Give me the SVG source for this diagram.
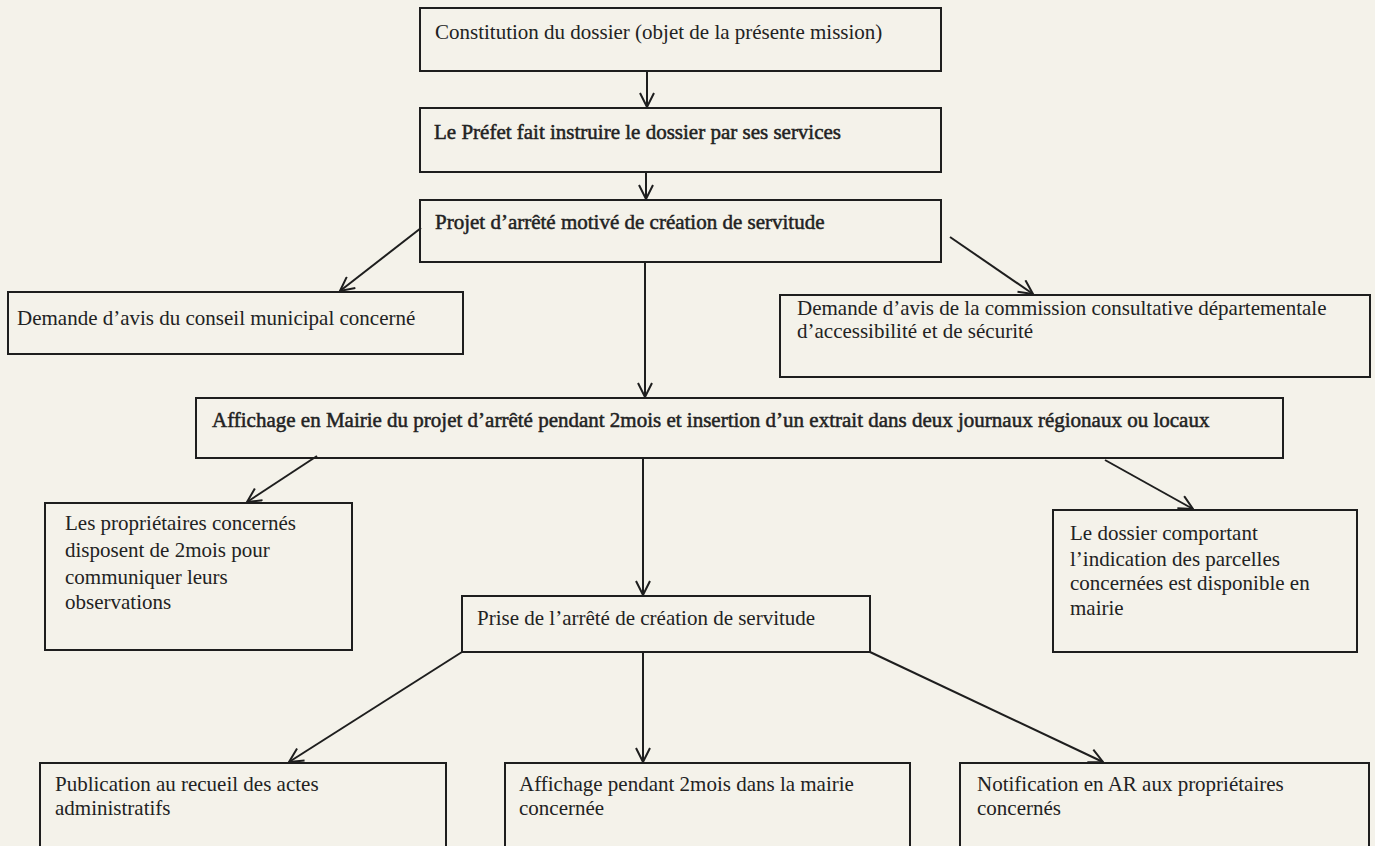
<svg xmlns="http://www.w3.org/2000/svg" width="1375" height="846" viewBox="0 0 1375 846">
<defs>
<style>
.box{fill:none;stroke:#1e1e1e;stroke-width:2}
.t{font-family:"Liberation Serif","Times New Roman",serif;font-size:21px;fill:#222}
.b{stroke:#222;stroke-width:0.5}
.c{fill:none;stroke:#1e1e1e;stroke-width:2}
</style>
<marker id="ah" viewBox="0 0 16 16" refX="15" refY="8" markerWidth="16" markerHeight="16" markerUnits="userSpaceOnUse" orient="auto">
<path d="M1,1 L15,8 L1,15" fill="none" stroke="#1e1e1e" stroke-width="2"/>
</marker>
</defs>
<rect x="0" y="0" width="1375" height="846" fill="#f4f2ea"/>

<g id="n1"><rect class="box" x="420" y="8" width="521" height="63"/><text class="t" x="435" y="39">Constitution  du dossier (objet de la présente mission)</text></g>
<g id="n2"><rect class="box" x="420" y="108" width="521" height="64"/><text class="t b" x="434" y="139">Le Préfet fait instruire  le dossier par ses services</text></g>
<g id="n3"><rect class="box" x="420" y="200" width="521" height="62"/><text class="t b" x="435" y="229">Projet d’arrêté motivé  de création de servitude</text></g>
<g id="n4"><rect class="box" x="8" y="292" width="455" height="62"/><text class="t" x="17" y="325">Demande d’avis du conseil  municipal  concerné</text></g>
<g id="n5"><rect class="box" x="780" y="295" width="590" height="82"/><text class="t" x="797" y="315">Demande d’avis de la commission  consultative  départementale</text><text class="t" x="797" y="338">d’accessibilité  et de sécurité</text></g>
<g id="n6"><rect class="box" x="196" y="398" width="1087" height="60"/><text class="t b" x="212" y="427">Affichage en Mairie du projet d’arrêté pendant 2mois  et insertion  d’un  extrait dans deux journaux  régionaux  ou locaux</text></g>
<g id="n7"><rect class="box" x="45" y="503" width="307" height="147"/><text class="t" x="65" y="530">Les propriétaires  concernés</text><text class="t" x="65" y="557">disposent de 2mois  pour</text><text class="t" x="65" y="584">communiquer  leurs</text><text class="t" x="65" y="609">observations</text></g>
<g id="n8"><rect class="box" x="1053" y="510" width="304" height="142"/><text class="t" x="1070" y="540">Le dossier  comportant</text><text class="t" x="1070" y="566">l’indication  des parcelles</text><text class="t" x="1070" y="590">concernées est disponible  en</text><text class="t" x="1070" y="615">mairie</text></g>
<g id="n9"><rect class="box" x="462" y="596" width="408" height="56"/><text class="t" x="477" y="625">Prise de l’arrêté de création de servitude</text></g>
<g id="n10"><rect class="box" x="40" y="763" width="406" height="100"/><text class="t" x="55" y="791">Publication  au recueil  des actes</text><text class="t" x="55" y="815">administratifs</text></g>
<g id="n11"><rect class="box" x="505" y="763" width="405" height="100"/><text class="t" x="519" y="791">Affichage pendant  2mois  dans la mairie</text><text class="t" x="519" y="815">concernée</text></g>
<g id="n12"><rect class="box" x="960" y="763" width="409" height="100"/><text class="t" x="977" y="791">Notification  en AR aux propriétaires</text><text class="t" x="977" y="815">concernés</text></g>

<g id="connectors">
<line class="c" x1="647" y1="71" x2="647" y2="107" marker-end="url(#ah)"/>
<line class="c" x1="646" y1="172" x2="646" y2="199" marker-end="url(#ah)"/>
<line class="c" x1="421" y1="228" x2="340" y2="291" marker-end="url(#ah)"/>
<line class="c" x1="950" y1="237" x2="1033" y2="294" marker-end="url(#ah)"/>
<line class="c" x1="645" y1="262" x2="645" y2="397" marker-end="url(#ah)"/>
<line class="c" x1="317" y1="456" x2="247" y2="502" marker-end="url(#ah)"/>
<line class="c" x1="643" y1="458" x2="643" y2="595" marker-end="url(#ah)"/>
<line class="c" x1="1105" y1="460" x2="1193" y2="509" marker-end="url(#ah)"/>
<line class="c" x1="462" y1="652" x2="289" y2="762" marker-end="url(#ah)"/>
<line class="c" x1="643" y1="652" x2="643" y2="762" marker-end="url(#ah)"/>
<line class="c" x1="870" y1="652" x2="1103" y2="762" marker-end="url(#ah)"/>
</g>
</svg>
